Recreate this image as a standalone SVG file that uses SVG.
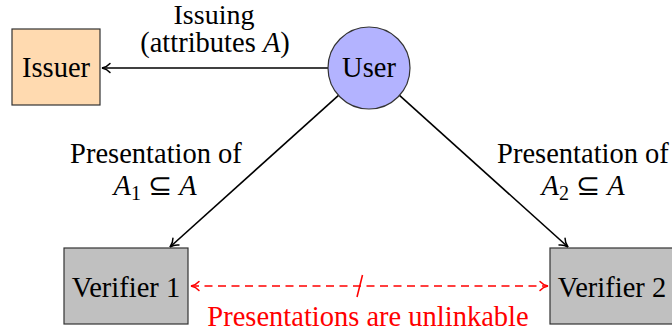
<svg xmlns="http://www.w3.org/2000/svg" width="672" height="333" viewBox="0 0 672 333">
  <defs>
    <marker id="arrow" viewBox="0 0 12 12" refX="10" refY="6" markerWidth="12" markerHeight="12" markerUnits="userSpaceOnUse" orient="auto-start-reverse">
      <path d="M2,1.5 Q5,5 10,6 Q5,7 2,10.5" fill="none" stroke="#000" stroke-width="1.5" stroke-linecap="round"/>
    </marker>
    <marker id="arrow-red" viewBox="0 0 12 12" refX="10" refY="6" markerWidth="12" markerHeight="12" markerUnits="userSpaceOnUse" orient="auto-start-reverse">
      <path d="M2,1.5 Q5,5 10,6 Q5,7 2,10.5" fill="none" stroke="#f00" stroke-width="1.5" stroke-linecap="round"/>
    </marker>
  </defs>

  <!-- connectors and their labels -->
  <g id="connectors" fill="none" stroke-width="1.6">
    <line stroke="#000" x1="328" y1="68" x2="102" y2="68" marker-end="url(#arrow)"/>
    <line stroke="#000" x1="338.5" y1="95.4" x2="170" y2="247" marker-end="url(#arrow)"/>
    <line stroke="#000" x1="399.5" y1="95.4" x2="568" y2="247" marker-end="url(#arrow)"/>
    <line stroke="#f00" stroke-dasharray="8 5.5" x1="191" y1="286" x2="548" y2="286" marker-start="url(#arrow-red)" marker-end="url(#arrow-red)"/>
    <line stroke="#f00" x1="357" y1="297" x2="362.5" y2="275"/>
  </g>
  <g id="edge-labels" fill="#000" text-anchor="middle">
    <text font-family="Liberation Serif, serif" font-size="28" x="214" y="24">Issuing</text>
    <text font-family="Liberation Serif, serif" font-size="28.5" x="215" y="52">(attributes <tspan font-style="italic">A</tspan>)</text>
    <text font-family="Liberation Serif, serif" font-size="28.5" x="156" y="163">Presentation of</text>
    <text font-family="Liberation Serif, serif" font-size="28.5" x="155" y="195"><tspan font-style="italic">A</tspan><tspan font-size="20" dy="5">1</tspan><tspan dy="-5"> ⊆ </tspan><tspan font-style="italic">A</tspan></text>
    <text font-family="Liberation Serif, serif" font-size="28.5" x="583" y="163">Presentation of</text>
    <text font-family="Liberation Serif, serif" font-size="28.5" x="583" y="195"><tspan font-style="italic">A</tspan><tspan font-size="20" dy="5">2</tspan><tspan dy="-5"> ⊆ </tspan><tspan font-style="italic">A</tspan></text>
    <text font-family="Liberation Serif, serif" font-size="28.5" fill="#f00" x="368" y="326">Presentations are unlinkable</text>
  </g>

  <!-- nodes -->
  <g id="issuer">
    <rect x="12" y="29" width="88" height="76" fill="#ffdab0" stroke="#333" stroke-width="1.2"/>
    <text font-family="Liberation Serif, serif" font-size="28.5" text-anchor="middle" x="56" y="77">Issuer</text>
  </g>
  <g id="user">
    <circle cx="369" cy="68" r="41" fill="#b3b3ff" stroke="#333" stroke-width="1.2"/>
    <text font-family="Liberation Serif, serif" font-size="28.5" text-anchor="middle" x="369" y="77">User</text>
  </g>
  <g id="verifier1">
    <rect x="64" y="248" width="124" height="76" fill="#c0c0c0" stroke="#333" stroke-width="1.2"/>
    <text font-family="Liberation Serif, serif" font-size="28.5" text-anchor="middle" x="126" y="297">Verifier 1</text>
  </g>
  <g id="verifier2">
    <rect x="550" y="248" width="124" height="76" fill="#c0c0c0" stroke="#333" stroke-width="1.2"/>
    <text font-family="Liberation Serif, serif" font-size="28.5" text-anchor="middle" x="612" y="297">Verifier 2</text>
  </g>
</svg>
